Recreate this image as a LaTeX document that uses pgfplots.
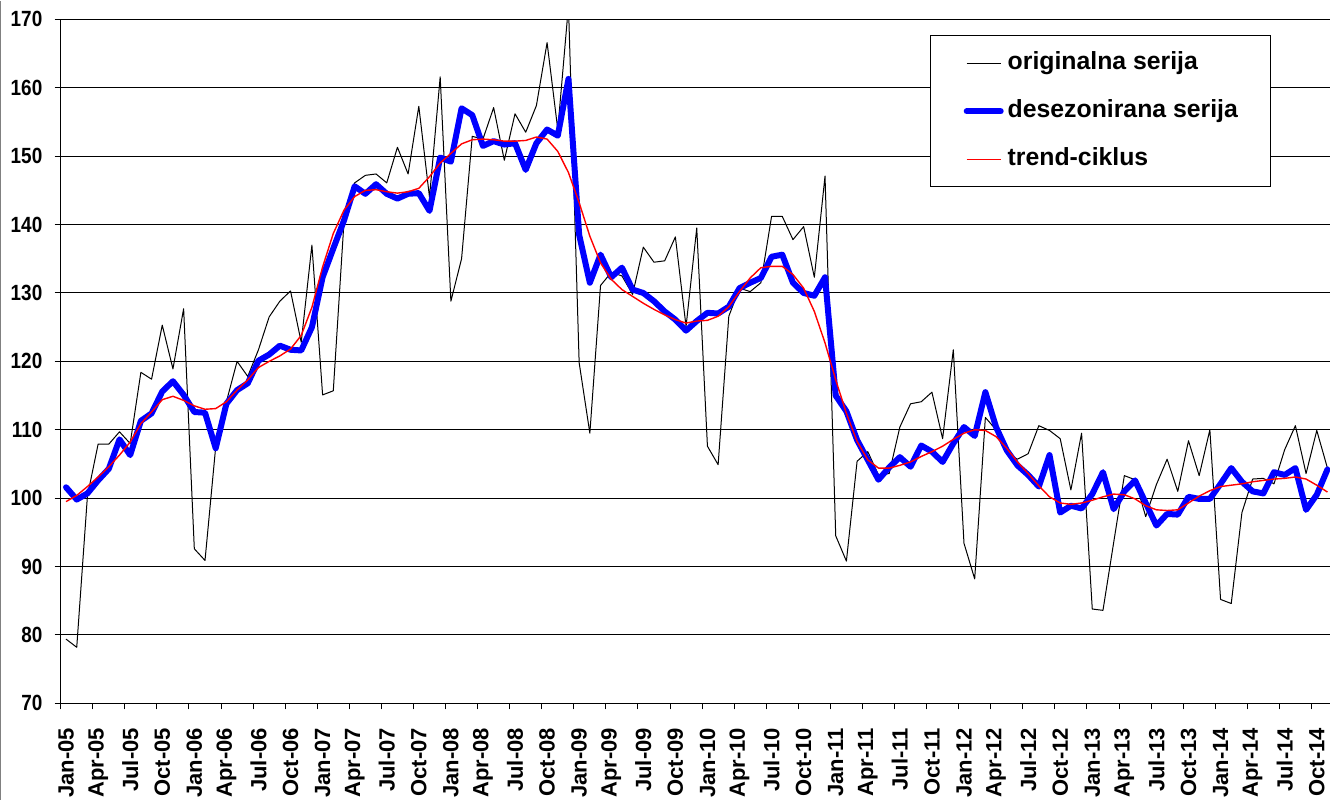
\documentclass[border=0pt]{standalone}
\usepackage{pgfplots}
\pgfplotsset{compat=1.18}
\usepackage{pgfplotstable}
\usetikzlibrary{calc}
\usepackage{fontspec}
\setmainfont{Liberation Sans}
\newfontfamily\narrowfont{Liberation Sans}[FakeStretch=0.86]

\pgfplotstableread{
i orig desez trend
0 79.4 101.6 99.5
1 78.2 99.8 100.4
2 100.3 100.7 101.7
3 107.9 102.6 103.1
4 107.9 104.3 104.6
5 109.7 108.6 106.3
6 108.0 106.3 108.2
7 118.4 111.3 110.9
8 117.4 112.4 112.6
9 125.3 115.6 114.4
10 118.9 117.1 114.9
11 127.7 115.1 114.3
12 92.6 112.6 113.5
13 90.9 112.5 113.0
14 107.5 107.3 113.1
15 114.1 113.8 114.1
16 120.0 115.8 115.8
17 117.8 116.8 117.3
18 121.7 120.1 119.1
19 126.5 121.0 120.0
20 128.8 122.3 120.8
21 130.3 121.7 121.8
22 122.8 121.6 123.8
23 137.0 125.0 127.9
24 115.1 132.3 133.8
25 115.7 136.5 138.7
26 140.4 140.6 142.1
27 146.1 145.6 144.1
28 147.2 144.5 145.0
29 147.4 145.9 145.1
30 146.1 144.5 144.8
31 151.3 143.8 144.6
32 147.4 144.5 144.8
33 157.3 144.6 145.3
34 144.0 142.0 147.0
35 161.6 149.8 149.0
36 128.8 149.2 150.4
37 135.0 157.0 151.8
38 152.9 156.0 152.4
39 152.5 151.5 152.5
40 157.1 152.2 152.4
41 149.4 151.7 152.2
42 156.2 151.9 152.2
43 153.5 148.0 152.3
44 157.4 151.9 152.8
45 166.6 153.9 152.5
46 153.9 153.0 150.7
47 172.0 161.3 147.6
48 119.8 138.5 143.2
49 109.5 131.5 138.3
50 131.1 135.6 134.4
51 133.0 132.3 132.0
52 132.5 133.7 130.5
53 129.8 130.5 129.5
54 136.7 130.0 128.5
55 134.5 128.8 127.6
56 134.7 127.3 126.8
57 138.2 126.1 126.1
58 125.1 124.5 125.6
59 139.5 125.9 125.9
60 107.6 127.1 126.0
61 104.9 127.0 126.6
62 126.6 128.0 128.0
63 130.7 130.7 130.2
64 130.2 131.5 132.2
65 131.5 132.2 133.7
66 141.2 135.3 133.9
67 141.2 135.6 133.9
68 137.8 131.5 132.7
69 139.7 130.0 130.7
70 132.3 129.6 127.3
71 147.1 132.3 122.7
72 94.5 115.0 117.3
73 90.8 112.7 112.4
74 105.4 108.5 108.3
75 106.8 105.6 105.6
76 103.4 102.7 104.4
77 103.6 104.5 104.4
78 110.4 106.0 104.8
79 113.8 104.6 105.3
80 114.1 107.7 106.1
81 115.5 106.8 106.8
82 108.7 105.3 107.6
83 121.7 108.0 108.6
84 93.4 110.4 109.5
85 88.2 109.1 110.0
86 111.8 115.5 109.9
87 110.0 110.4 109.0
88 106.6 107.0 107.3
89 105.7 104.8 105.3
90 106.5 103.4 103.6
91 110.6 101.7 101.8
92 109.9 106.3 100.2
93 108.7 97.9 99.3
94 101.2 98.9 99.1
95 109.5 98.5 99.3
96 83.8 100.6 99.7
97 83.6 103.8 100.2
98 93.5 98.4 100.6
99 103.3 101.0 100.5
100 102.7 102.6 99.9
101 97.3 99.3 98.9
102 102.0 96.0 98.3
103 105.7 97.7 98.2
104 101.0 97.6 98.3
105 108.4 100.2 99.3
106 103.3 99.9 100.3
107 110.0 99.9 101.1
108 85.2 102.1 101.7
109 84.6 104.4 101.9
110 97.9 102.4 102.1
111 102.8 101.0 102.4
112 102.9 100.7 102.6
113 102.1 103.8 102.8
114 107.1 103.4 102.9
115 110.6 104.4 103.1
116 103.6 98.3 102.8
117 109.9 100.5 101.9
118 104.4 104.2 100.9
}\serije

\begin{document}
\begin{tikzpicture}
\begin{axis}[
  scale only axis, width=634.65pt, height=342pt,
  xmin=-0.5, xmax=118.24, ymin=70, ymax=170,
  axis x line*=bottom, axis y line*=left,
  axis line style={-, black, line width=0.5pt},
  ytick={70,80,...,160},
  extra y ticks={170},
  extra y tick style={grid style={gray, line width=0.8pt}},
  ymajorgrids, major grid style={black, line width=0.5pt},
  xtick={0,3,...,117},
  xticklabels={Jan-05,Apr-05,Jul-05,Oct-05,Jan-06,Apr-06,Jul-06,Oct-06,
    Jan-07,Apr-07,Jul-07,Oct-07,Jan-08,Apr-08,Jul-08,Oct-08,
    Jan-09,Apr-09,Jul-09,Oct-09,Jan-10,Apr-10,Jul-10,Oct-10,
    Jan-11,Apr-11,Jul-11,Oct-11,Jan-12,Apr-12,Jul-12,Oct-12,
    Jan-13,Apr-13,Jul-13,Oct-13,Jan-14,Apr-14,Jul-14,Oct-14},
  minor xtick={-0.5,2.5,...,116.5},
  minor ytick={70,80,...,170},
  tick align=outside, major tick length=0pt, minor tick length=3pt,
  tick style={black, line width=0.5pt},
  /pgf/number format/assume math mode=true,
  xticklabel style={rotate=90, anchor=east, inner sep=0pt,
    font=\bfseries\fontsize{11}{13}\selectfont},
  xticklabel shift=12.15pt,
  yticklabel style={anchor=east, inner sep=0pt,
    font=\narrowfont\bfseries\fontsize{11}{13}\selectfont},
  yticklabel shift=9pt,
  legend style={at={(rel axis cs:0.6849,0.9762)}, anchor=north west,
    draw=none, fill=white,
    minimum width=170.35pt, minimum height=75.35pt,
    inner sep=0pt, row sep=12pt, column sep=2pt,
    font=\bfseries\fontsize{12.4}{14}\selectfont,
    nodes={minimum width=0pt, minimum height=0pt,
      text height=9.2pt, text depth=2.8pt, inner sep=0pt}},
  legend cell align=left,
  legend image code/.code={\draw[#1] (0pt,0pt) -- (17pt,0pt);},
]
\addplot[draw=black, line width=0.5pt, line join=round] table[x=i, y=orig] {\serije};
\addlegendentry{originalna serija}
\addplot[draw=blue, line width=3pt, line join=round, line cap=round] table[x=i, y=desez] {\serije};
\addlegendentry{desezonirana serija}
\addplot[draw=red, line width=0.7pt, line join=round,
  legend image post style={line width=0.9pt}] table[x=i, y=trend] {\serije};
\addlegendentry{trend-ciklus}
\end{axis}
\draw[black, line width=0.5pt] ($(current axis.south west)+(434.67pt,333.86pt)$) rectangle ++(170.35pt,-75.35pt);
\pgfresetboundingbox
\path ($(current axis.south west)+(-30.35pt,-48.15pt)$) rectangle ($(current axis.north east)+(0pt,9.35pt)$);
\draw[gray, line width=0.7pt] ($(current axis.south west)+(-30pt,-48.15pt)$) -- ($(current axis.south west)+(-30pt,351.35pt)$);
\end{tikzpicture}
\end{document}
